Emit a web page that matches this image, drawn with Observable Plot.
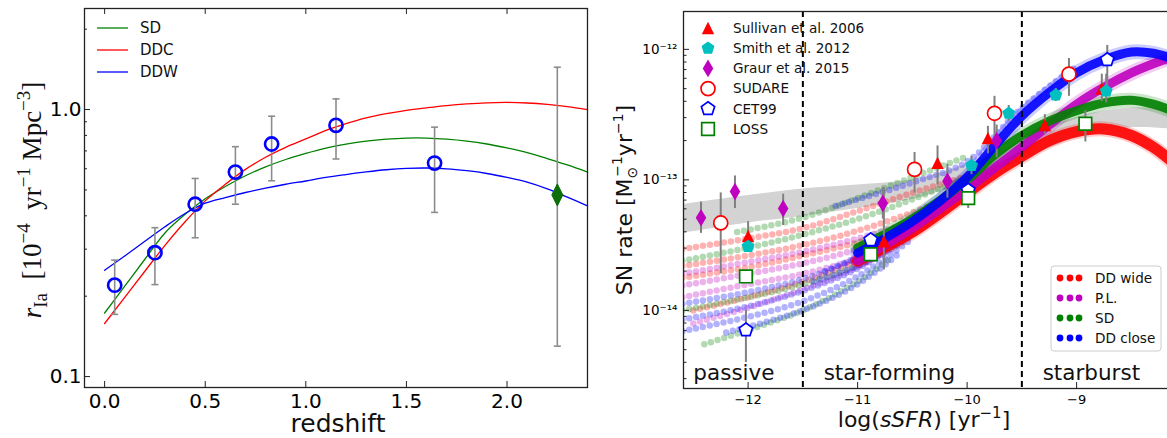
<!DOCTYPE html>
<html><head><meta charset="utf-8">
<script src="https://cdn.jsdelivr.net/npm/d3@7"></script>
<script src="https://cdn.jsdelivr.net/npm/@observablehq/plot@0.6"></script>
<style>
html,body{margin:0;padding:0;background:#fff;overflow:hidden;width:1167px;height:438px;}
#left{position:absolute;left:0;top:0;}
#right{position:absolute;left:590px;top:0;width:600px;}
svg{max-width:none !important;}
</style></head><body>
<div id="left"></div><div id="right"></div>
<script>
// ---------------- LEFT PANEL DATA ----------------
const zGrid   = [0,0.1,0.2,0.3,0.4,0.5,0.6,0.7,0.8,0.9,1.0,1.1,1.2,1.3,1.4,1.5,1.6,1.7,1.8,1.9,2.0,2.1,2.2,2.3,2.4];
const rateSD  = [0.173,0.218,0.275,0.345,0.405,0.463,0.515,0.565,0.610,0.650,0.685,0.717,0.742,0.762,0.775,0.782,0.782,0.775,0.762,0.743,0.718,0.690,0.655,0.620,0.583];
const rateDDC = [0.158,0.198,0.248,0.310,0.380,0.455,0.525,0.597,0.663,0.722,0.776,0.835,0.885,0.930,0.965,0.993,1.015,1.035,1.050,1.060,1.063,1.058,1.045,1.025,1.000];
const rateDDW = [0.250,0.283,0.321,0.364,0.408,0.446,0.468,0.489,0.508,0.525,0.540,0.557,0.571,0.584,0.595,0.602,0.604,0.600,0.590,0.576,0.557,0.535,0.505,0.470,0.436];
const obsZ    = [0.05,0.25,0.45,0.65,0.83,1.15,1.64];
const obsRate = [0.220,0.291,0.442,0.583,0.743,0.873,0.630];
const obsLo   = [0.171,0.221,0.331,0.442,0.541,0.653,0.412];
const obsHi   = [0.273,0.361,0.552,0.726,0.944,1.096,0.859];
const hiZ = [2.25], hiRate = [0.479], hiLo = [0.130], hiHi = [1.44];
const legendLeftNames = ["SD","DDC","DDW"];
const xTicksL = [0,0.5,1.0,1.5,2.0], xTickLabelsL = ["0.0","0.5","1.0","1.5","2.0"];
const yTicksL = [0.1,1.0], yTickLabelsL = ["0.1","1.0"];
const yMinorL = [0.2,0.3,0.4,0.5,0.6,0.7,0.8,0.9,2.0];

// ---------------- RIGHT PANEL DATA (log10 rates) ----------------
const bandX  = [-12.6,-12.0,-11.5,-11.0,-10.5,-10.0,-9.5,-9.0,-8.5,-8.0];
const bandHi = [-13.19,-13.12,-13.07,-13.04,-13.00,-12.88,-12.70,-12.52,-12.45,-12.46];
const bandLo = [-13.41,-13.33,-13.28,-13.22,-13.15,-13.02,-12.85,-12.68,-12.60,-12.62];

const mainX       = [-11.0,-10.5,-10.0,-9.75,-9.5,-9.25,-9.0,-8.75,-8.5,-8.3,-8.1];
const mainDDwide  = [-13.62,-13.40,-13.10,-12.95,-12.82,-12.70,-12.63,-12.61,-12.66,-12.75,-12.88];
const mainPL      = [-13.62,-13.37,-13.07,-12.91,-12.75,-12.58,-12.42,-12.29,-12.18,-12.11,-12.05];
const mainSD      = [-13.52,-13.30,-13.00,-12.81,-12.66,-12.55,-12.47,-12.41,-12.39,-12.42,-12.48];
const mainDDclose = [-13.56,-13.32,-12.98,-12.74,-12.51,-12.33,-12.18,-12.08,-12.02,-12.03,-12.08];

const fanDDwide = [
  [[-12.6,-13.53],[-12.0,-13.45],[-11.5,-13.37],[-11.0,-13.24],[-10.5,-13.10],[-10.0,-12.97],[-9.6,-12.86]],
  [[-12.6,-13.66],[-12.0,-13.58],[-11.5,-13.50],[-11.0,-13.39],[-10.5,-13.25],[-10.0,-13.08]],
  [[-12.6,-13.75],[-12.0,-13.67],[-11.5,-13.58],[-11.0,-13.48],[-10.5,-13.35]],
  [[-12.5,-14.00],[-12.0,-13.90],[-11.5,-13.78],[-11.0,-13.62],[-10.5,-13.42]]
];
const fanPL = [
  [[-12.6,-13.72],[-12.0,-13.63],[-11.5,-13.55],[-11.0,-13.45],[-10.5,-13.32]],
  [[-12.6,-13.81],[-12.0,-13.72],[-11.5,-13.64],[-11.0,-13.53],[-10.5,-13.37]],
  [[-12.6,-13.90],[-12.0,-13.80],[-11.5,-13.72],[-11.0,-13.60],[-10.5,-13.39]],
  [[-12.5,-14.10],[-12.0,-13.98],[-11.5,-13.84],[-11.0,-13.67],[-10.5,-13.42]]
];
const fanSD = [
  [[-12.1,-13.40],[-11.5,-13.29],[-11.0,-13.14],[-10.5,-12.98],[-10.0,-12.82]],
  [[-12.6,-13.62],[-12.0,-13.52],[-11.5,-13.42],[-11.0,-13.30],[-10.5,-13.15],[-10.0,-12.98]],
  [[-12.6,-14.00],[-12.0,-13.90],[-11.5,-13.80],[-11.0,-13.65],[-10.5,-13.38]],
  [[-12.4,-14.26],[-12.0,-14.15],[-11.5,-14.00],[-11.0,-13.78],[-10.7,-13.60]]
];
const fanDDclose = [
  [[-11.2,-13.20],[-10.5,-13.02],[-10.0,-12.86],[-9.5,-12.45],[-9.0,-12.13]],
  [[-12.6,-13.95],[-12.0,-13.86],[-11.5,-13.76],[-11.0,-13.60],[-10.5,-13.35]],
  [[-12.6,-14.07],[-12.0,-13.97],[-11.5,-13.85],[-11.0,-13.68],[-10.5,-13.40]],
  [[-12.6,-14.16],[-12.0,-14.05],[-11.5,-13.93],[-11.0,-13.74],[-10.5,-13.45]],
  [[-12.2,-14.17],[-11.5,-14.00],[-11.0,-13.80],[-10.6,-13.55]],
  [[-11.4,-13.78],[-11.0,-13.66],[-10.6,-13.48],[-10.2,-13.22]],
  [[-11.3,-13.70],[-10.9,-13.55],[-10.5,-13.36],[-10.1,-13.12]]
];
const modelNames  = ["DD wide","P.L.","SD","DD close"];
const modelColors = ["#ff0000","#bf00bf","#008000","#0000ff"];

// observations: [logSSFR, log rate, log err low, log err high]
const sullivan = [[-12.0,-13.43,-13.55,-13.32],[-10.76,-13.47,-13.69,-13.06],[-10.27,-12.87,-13.04,-12.74],[-9.81,-12.68,-12.80,-12.59],[-9.29,-12.58,-12.65,-12.50],[-8.77,-12.30,-12.40,-12.19]];
const smith    = [[-12.0,-13.51,-13.51,-13.51],[-9.96,-12.89,-12.96,-12.82],[-9.62,-12.49,-12.55,-12.43],[-9.19,-12.35,-12.40,-12.30],[-8.73,-12.32,-12.41,-12.19]];
const graur    = [[-12.43,-13.29,-13.41,-13.17],[-12.12,-13.09,-13.22,-12.97],[-11.68,-13.22,-13.35,-13.11],[-10.77,-13.18,-13.30,-13.06],[-10.18,-13.01,-13.14,-12.88],[-9.73,-12.70,-12.83,-12.58]];
const sudare   = [[-12.25,-13.33,-13.72,-13.10],[-10.48,-12.92,-13.10,-12.79],[-9.75,-12.49,-12.72,-12.36],[-9.07,-12.19,-12.36,-12.07]];
const cet99    = [[-12.02,-14.15,-14.40,-14.00],[-10.88,-13.46,-13.46,-13.46],[-9.99,-13.08,-13.08,-13.08],[-8.72,-12.08,-12.33,-11.97]];
const loss     = [[-12.02,-13.74,-13.74,-13.74],[-10.88,-13.57,-13.57,-13.57],[-9.99,-13.14,-13.22,-13.10],[-8.92,-12.57,-12.71,-12.47]];
const obsNames = ["Sullivan et al. 2006","Smith et al. 2012","Graur et al. 2015","SUDARE","CET99","LOSS"];

const regionNames = ["passive","star-forming","starburst"];
const regionLabelX = [-12.50,-11.31,-9.31];
const regionBounds = [-11.5,-9.5];
const xTicksR = [-12,-11,-10,-9], xTickLabelsR = ["−12","−11","−10","−9"];
const yTicksR = [1e-14,1e-13,1e-12], yTickLabelsR = ["10⁻¹⁴","10⁻¹³","10⁻¹²"];
const yMinorR = [3e-15,4e-15,5e-15,6e-15,7e-15,8e-15,9e-15,2e-14,3e-14,4e-14,5e-14,6e-14,7e-14,8e-14,9e-14,2e-13,3e-13,4e-13,5e-13,6e-13,7e-13,8e-13,9e-13];

// ---------------- symbols ----------------
const R = size => Math.sqrt(size/Math.PI);
const sym = {
  tri:  {draw(c,size){const s=R(size); c.moveTo(0,-s); c.lineTo(s,s); c.lineTo(-s,s); c.closePath();}},
  pent: {draw(c,size){const s=R(size); for(let k=0;k<5;k++){const a=-Math.PI/2+k*2*Math.PI/5; const x=s*Math.cos(a), y=s*Math.sin(a); if(k) c.lineTo(x,y); else c.moveTo(x,y);} c.closePath();}},
  thin: {draw(c,size){const s=R(size); c.moveTo(0,-s); c.lineTo(s*0.6,0); c.lineTo(0,s); c.lineTo(-s*0.6,0); c.closePath();}},
  thin2:{draw(c,size){const s=R(size); c.moveTo(0,-s); c.lineTo(s*0.5,0); c.lineTo(0,s); c.lineTo(-s*0.5,0); c.closePath();}},
  sq:   {draw(c,size){const s=R(size); c.rect(-s,-s,2*s,2*s);}},
  circ: {draw(c,size){const s=R(size); c.moveTo(s,0); c.arc(0,0,s,0,2*Math.PI);}},
  cap:  {draw(c,size){const s=R(size); c.moveTo(-s,0); c.lineTo(s,0);}}
};

// ---------------- LEFT PLOT ----------------
const LW = 590, LH = 438, lml = 84, lmr = 3, lmt = 8, lmb = 51;
const lfw = LW - lml - lmr, lfh = LH - lmt - lmb;
const modelRows = zGrid.flatMap((z,i)=>[
  {z, r: rateSD[i], m: "SD"}, {z, r: rateDDC[i], m: "DDC"}, {z, r: rateDDW[i], m: "DDW"}]);
const obsRows = obsZ.map((z,i)=>({z, r: obsRate[i], lo: obsLo[i], hi: obsHi[i]}));
const hiRows = hiZ.map((z,i)=>({z, r: hiRate[i], lo: hiLo[i], hi: hiHi[i]}));
const errL = obsRows.concat(hiRows);
const lColor = {SD: "#008000", DDC: "#ff0000", DDW: "#0000ff"};
const fmtL = new Map(xTicksL.map((d,i)=>[d, xTickLabelsL[i]]));
const fmtLy = new Map(yTicksL.map((d,i)=>[d, yTickLabelsL[i]]));

const left = Plot.plot({
  width: LW, height: LH, marginLeft: lml, marginRight: lmr, marginTop: lmt, marginBottom: lmb,
  style: {fontFamily: "DejaVu Sans", background: "white"},
  x: {domain: [-0.1, 2.4]},
  y: {type: "log", domain: [0.091, 2.39]},
  marks: [
    ["SD","DDC","DDW"].map(m => Plot.line(modelRows.filter(d=>d.m===m), {x: "z", y: "r", stroke: lColor[m], strokeWidth: 1.3, curve: "catmull-rom"})),
    Plot.ruleX(errL, {x: "z", y1: "lo", y2: "hi", stroke: "#8c8c8c", strokeWidth: 1.6}),
    Plot.dot(errL, {x: "z", y: "lo", symbol: sym.cap, r: 3.5, stroke: "#8c8c8c", strokeWidth: 1.6}),
    Plot.dot(errL, {x: "z", y: "hi", symbol: sym.cap, r: 3.5, stroke: "#8c8c8c", strokeWidth: 1.6}),
    Plot.dot(obsRows, {x: "z", y: "r", symbol: sym.circ, r: 6.6, stroke: "#0000ff", strokeWidth: 2.6, fill: "none"}),
    Plot.dot(hiRows, {x: "z", y: "r", symbol: sym.thin2, r: 11, fill: "#0a6e0a", stroke: "#0a6e0a", strokeWidth: 1}),
    Plot.ruleX(xTicksL, {x: d=>d, insetTop: lfh - 6, stroke: "#222", strokeWidth: 1}),
    Plot.ruleX(xTicksL, {x: d=>d, insetBottom: lfh - 6, stroke: "#222", strokeWidth: 1}),
    Plot.ruleY(yTicksL, {y: d=>d, insetRight: lfw - 6, stroke: "#222", strokeWidth: 1}),
    Plot.ruleY(yMinorL, {y: d=>d, insetRight: lfw - 3, stroke: "#222", strokeWidth: 1}),
    Plot.axisX(xTicksL, {tickSize: 0, tickPadding: 6, fontSize: 20, tickFormat: d=>fmtL.get(d), label: null}),
    Plot.axisY(yTicksL, {tickSize: 0, tickPadding: 3, fontSize: 20, tickFormat: d=>fmtLy.get(d), label: null}),
    Plot.frame({stroke: "#222", strokeWidth: 1.3})
  ]
});
document.getElementById("left").appendChild(left);

// left labels & legend
{
  const svg = d3.select(left);
  const g = svg.append("g").attr("font-family", "DejaVu Sans").attr("fill", "#111").attr("text-anchor", "start");
  legendLeftNames.forEach((n,i) => {
    const y = 28 + i*22;
    g.append("line").attr("x1", 97).attr("x2", 128).attr("y1", y).attr("y2", y).attr("stroke", lColor[n]).attr("stroke-width", 1.3);
    g.append("text").attr("x", 140).attr("y", y).attr("dy", "0.35em").attr("font-size", 15).attr("text-anchor", "start").text(n);
  });
  g.append("text").attr("x", 338).attr("y", 432).attr("text-anchor", "middle").attr("font-size", 25).text("redshift");
  const t = g.append("text").attr("transform", "translate(41,200) rotate(-90)").attr("text-anchor", "middle")
    .attr("font-family", "Liberation Serif").attr("font-size", 27);
  t.append("tspan").attr("font-style", "italic").text("r");
  t.append("tspan").attr("font-size", 19).attr("dy", 6).text("Ia");
  t.append("tspan").attr("dy", -6).text("  [10");
  t.append("tspan").attr("font-size", 19).attr("dy", -11).text("−4");
  t.append("tspan").attr("dy", 11).text("  yr");
  t.append("tspan").attr("font-size", 19).attr("dy", -11).text("−1");
  t.append("tspan").attr("dy", 11).text(" Mpc");
  t.append("tspan").attr("font-size", 19).attr("dy", -11).text("−3");
  t.append("tspan").attr("dy", 11).text("]");
}

// ---------------- RIGHT PLOT ----------------
const RW = 600, RH = 438, rml = 93, rmr = 0, rmt = 11, rmb = 50;
const rfw = RW - rml - rmr, rfh = RH - rmt - rmb;
const bandRows = bandX.map((v,i)=>({v, lo: 10**bandLo[i], hi: 10**bandHi[i]}));
const mains = [mainDDwide, mainPL, mainSD, mainDDclose];
const fans = [fanDDwide, fanPL, fanSD, fanDDclose];
const fanRows = fans.map(tr => tr.flatMap((t,k)=>t.map(([v,l])=>({v, r: 10**l, k}))));
const mainRows = mains.map(m => mainX.map((v,i)=>({v, r: 10**m[i]})));
const obsSets = [sullivan, smith, graur, sudare, cet99, loss].map(s => s.map(([v,l,lo,hi])=>({v, r: 10**l, lo: 10**lo, hi: 10**hi})));
const obsStyle = [
  {symbol: sym.tri,  r: 6.2, fill: "#ff0000", stroke: "none"},
  {symbol: sym.pent, r: 6.8, fill: "#00bfbf", stroke: "none"},
  {symbol: sym.thin, r: 8.8, fill: "#bf00bf", stroke: "none"},
  {symbol: sym.circ, r: 7.0, fill: "white", stroke: "#ff0000", strokeWidth: 1.7},
  {symbol: sym.pent, r: 7.0, fill: "white", stroke: "#0000ff", strokeWidth: 1.7},
  {symbol: sym.sq,   r: 6.3, fill: "white", stroke: "#008000", strokeWidth: 1.7}
];
const fmtR = new Map(xTicksR.map((d,i)=>[d, xTickLabelsR[i]]));
const fmtRy = new Map(yTicksR.map((d,i)=>[d, yTickLabelsR[i]]));

const right = Plot.plot({
  width: RW, height: RH, marginLeft: rml, marginRight: rmr, marginTop: rmt, marginBottom: rmb,
  style: {fontFamily: "DejaVu Sans", background: "white", maxWidth: "none"},
  x: {domain: [-12.59, -7.96]},
  y: {type: "log", domain: [2.52e-15, 1.95e-12]},
  marks: [
    Plot.areaY(bandRows, {x: "v", y1: "lo", y2: "hi", fill: "#d3d3d3", curve: "catmull-rom", clip: true}),
    fanRows.map((rows,i) => Plot.line(rows, {x: "v", y: "r", z: "k", stroke: modelColors[i], strokeWidth: 6.5, strokeOpacity: 0.3, strokeDasharray: "0 7", strokeLinecap: "round", curve: "catmull-rom", clip: true})),
    mainRows.map((rows,i) => Plot.line(rows, {x: "v", y: "r", stroke: modelColors[i], strokeWidth: 15, strokeOpacity: 0.2, strokeLinecap: "round", curve: "catmull-rom", clip: true})),
    mainRows.map((rows,i) => Plot.line(rows, {x: "v", y: "r", stroke: modelColors[i], strokeWidth: i===0 ? 11 : 9, strokeOpacity: 0.9, strokeLinecap: "round", curve: "catmull-rom", clip: true})),
    Plot.ruleX(regionBounds, {x: d=>d, stroke: "black", strokeWidth: 2, strokeDasharray: "6,4"}),
    obsSets.map(s => Plot.ruleX(s, {x: "v", y1: "lo", y2: "hi", stroke: "#808080", strokeWidth: 2})),
    obsSets.map((s,i) => Plot.dot(s, {x: "v", y: "r", ...obsStyle[i]})),
    Plot.text(regionNames, {x: (d,i)=>regionLabelX[i], y: 3.0e-15, text: d=>d, textAnchor: "start", fontSize: 21.5, fill: "#111", dy: -6}),
    Plot.ruleX(xTicksR, {x: d=>d, insetTop: rfh - 6, stroke: "#222", strokeWidth: 1}),
    Plot.ruleY(yTicksR, {y: d=>d, insetRight: rfw - 6, stroke: "#222", strokeWidth: 1}),
    Plot.ruleY(yMinorR, {y: d=>d, insetRight: rfw - 3.5, stroke: "#222", strokeWidth: 1}),
    Plot.axisX(xTicksR, {tickSize: 0, tickPadding: 6, fontSize: 13, tickFormat: d=>fmtR.get(d), label: null}),
    Plot.axisY(yTicksR, {tickSize: 0, tickPadding: 6, fontSize: 13.5, tickFormat: d=>fmtRy.get(d), label: null}),
    Plot.frame({stroke: "#222", strokeWidth: 1.3})
  ]
});
document.getElementById("right").appendChild(right);

{
  const svg = d3.select(right);
  const g = svg.append("g").attr("font-family", "DejaVu Sans").attr("fill", "#111").attr("text-anchor", "start");
  // legend 1
  obsNames.forEach((n,i) => {
    const y = 28 + i*20.2, x = 118;
    const st = obsStyle[i];
    const s = st.r;
    g.append("path").attr("transform", `translate(${x},${y})`)
      .attr("d", d3.symbol(st.symbol, s*s*Math.PI)())
      .attr("fill", st.fill).attr("stroke", st.stroke).attr("stroke-width", st.strokeWidth || 0);
    g.append("text").attr("x", 143).attr("y", y).attr("dy", "0.35em").attr("font-size", 13.6).attr("text-anchor", "start").text(n);
  });
  // legend 2
  const lg = g.append("g");
  lg.append("rect").attr("x", 461).attr("y", 266).attr("width", 110).attr("height", 85).attr("rx", 3)
    .attr("fill", "white").attr("fill-opacity", 0.85).attr("stroke", "#cccccc");
  modelNames.forEach((n,i) => {
    const y = 278 + i*20;
    [470,480,489].forEach(x => lg.append("circle").attr("cx", x).attr("cy", y).attr("r", 3.4).attr("fill", modelColors[i]));
    lg.append("text").attr("x", 505).attr("y", y).attr("dy", "0.35em").attr("font-size", 13.6).attr("text-anchor", "start").text(n);
  });
  // axis labels
  const xl = g.append("text").attr("x", 334).attr("y", 427).attr("text-anchor", "middle").attr("font-size", 22);
  xl.append("tspan").text("log(");
  xl.append("tspan").attr("font-style", "italic").text("sSFR");
  xl.append("tspan").text(") [yr");
  xl.append("tspan").attr("font-size", 15).attr("dy", -9).text("−1");
  xl.append("tspan").attr("dy", 9).text("]");
  const yl = g.append("text").attr("transform", "translate(42,200) rotate(-90)").attr("text-anchor", "middle").attr("font-size", 22);
  yl.append("tspan").text("SN rate [M");
  yl.append("tspan").attr("font-size", 14).attr("dy", 5).text("⊙");
  yl.append("tspan").attr("font-size", 14).attr("dy", -15).attr("dx", -10).text("−1");
  yl.append("tspan").attr("dy", 10).text("yr");
  yl.append("tspan").attr("font-size", 14).attr("dy", -9).text("−1");
  yl.append("tspan").attr("dy", 9).text("]");
}
</script></body></html>
